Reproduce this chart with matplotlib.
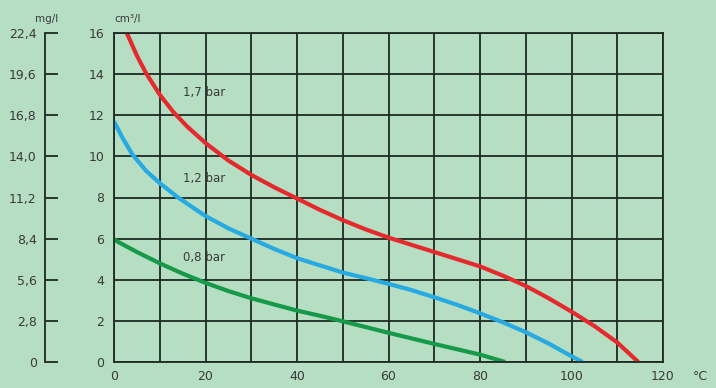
import matplotlib.pyplot as plt
from matplotlib.ticker import FixedLocator, FuncFormatter

# ---------- Data ----------

temp_17 = [2.8, 5, 7, 10, 13, 16, 20, 25, 30, 35, 40, 45, 50, 55, 60, 65, 70, 75,
           80, 85, 90, 95, 100, 105, 110, 114.6]
gas_17 = [16, 14.9, 14.05, 13.0, 12.15, 11.45, 10.65, 9.8, 9.1, 8.5, 7.95, 7.4, 6.9,
          6.45, 6.05, 5.7, 5.35, 5.0, 4.65, 4.2, 3.7, 3.1, 2.45, 1.75, 0.95, 0]

temp_12 = [0, 2, 4, 7, 10, 14, 20, 25, 30, 35, 40, 45, 50, 55, 60, 65, 70, 75, 80,
           85, 90, 95, 100, 102.4]
gas_12 = [11.7, 10.85, 10.1, 9.3, 8.7, 8.0, 7.1, 6.5, 6.0, 5.5, 5.05, 4.7, 4.35, 4.08,
          3.8, 3.5, 3.15, 2.78, 2.37, 1.93, 1.45, 0.9, 0.28, 0]

temp_08 = [0, 5, 10, 15, 20, 25, 30, 35, 40, 45, 50, 55, 60, 65, 70, 75, 80, 85.5]
gas_08 = [5.95, 5.35, 4.8, 4.3, 3.85, 3.45, 3.1, 2.8, 2.5, 2.25, 1.98, 1.7, 1.42,
          1.15, 0.88, 0.62, 0.36, 0]

curve_labels = ["1,7 bar", "1,2 bar", "0,8 bar"]
label_pos = [(19.7, 13.1), (19.7, 8.9), (19.7, 5.1)]

x_ticks = [0, 20, 40, 60, 80, 100, 120]
y_ticks = [0, 2, 4, 6, 8, 10, 12, 14, 16]
mg_ticks = [0, 2.8, 5.6, 8.4, 11.2, 14.0, 16.8, 19.6, 22.4]

# ---------- Plot ----------

bg = "#b6dec3"
txt = "#3a3a3a"
grid_c = "#1e2a22"

fig = plt.figure(figsize=(7.16, 3.88), dpi=100, facecolor=bg)
ax = fig.add_axes([114 / 716, 1 - 362 / 388, 549 / 716, 329 / 388])
ax.set_facecolor(bg)

line_kw = dict(linewidth=3, solid_capstyle="butt", solid_joinstyle="round")
ax.plot(temp_17, gas_17, color="#e52a2d", **line_kw)
ax.plot(temp_12, gas_12, color="#27a9e1", **line_kw)
ax.plot(temp_08, gas_08, color="#17994a", **line_kw)

for lbl, (x, y) in zip(curve_labels, label_pos):
    ax.text(x, y, lbl, ha="center", va="center", fontsize=8.5, color=txt)

ax.set_xlim(0, 120)
ax.set_ylim(0, 16)
ax.set_xticks(x_ticks)
ax.set_xticks(range(0, 121, 10), minor=True)
ax.set_yticks(y_ticks)
ax.grid(True, which="both", color=grid_c, linewidth=1.3)
ax.set_axisbelow(True)
ax.tick_params(which="both", length=0, labelsize=9, labelcolor=txt)
ax.tick_params(axis="y", pad=7)
ax.tick_params(axis="x", pad=6)
for s in ax.spines.values():
    s.set_color(grid_c)
    s.set_linewidth(1.3)

# mg/l axis on the far left
sec = ax.secondary_yaxis(-69 / 549, functions=(lambda v: v * 1.4, lambda v: v / 1.4))
sec.yaxis.set_major_locator(FixedLocator(mg_ticks))
sec.yaxis.set_major_formatter(FuncFormatter(lambda v, p: "0" if v == 0 else f"{v:.1f}".replace(".", ",")))
sec.tick_params(direction="in", length=9.5, width=1.3, color=grid_c,
                labelsize=9, labelcolor=txt, pad=6)
sec.spines["left"].set_color(grid_c)
sec.spines["left"].set_linewidth(1.3)

fig.text(47 / 716, 1 - 19 / 388, "mg/l", ha="center", va="center", fontsize=7.5, color=txt)
fig.text(128 / 716, 1 - 19 / 388, "cm³/l", ha="center", va="center", fontsize=7.5, color=txt)
fig.text(700 / 716, 1 - 376 / 388, "°C", ha="center", va="center", fontsize=9, color=txt)

fig.savefig("out.png", dpi=100, facecolor=bg)
